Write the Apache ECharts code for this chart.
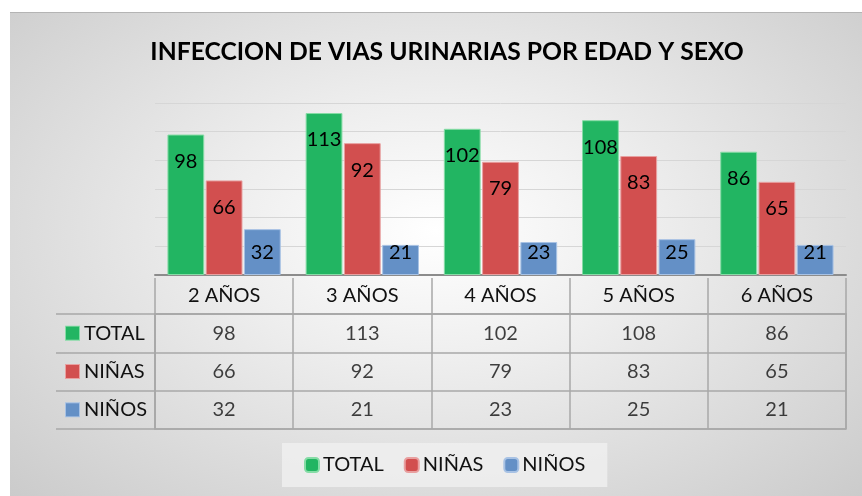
<!DOCTYPE html>
<html>
<head>
<meta charset="utf-8">
<script src="https://cdn.jsdelivr.net/npm/echarts@6/dist/echarts.min.js"></script>
<style>
  html, body { margin: 0; padding: 0; background: #fff; }
  #chart {
    position: absolute; left: 10px; top: 12px; width: 852px; height: 484px;
    border-top: 1px solid #b4b4b4;
    background: radial-gradient(ellipse at 50% 45%, #ffffff 0%, #eeeeee 35%, #cbcbcb 100%);
  }
</style>
</head>
<body>
<div id="chart"></div>
<script>
(function () {
// datos del grafico
var edades = ['2 AÑOS', '3 AÑOS', '4 AÑOS', '5 AÑOS', '6 AÑOS'];
var nombres = ['TOTAL', 'NIÑAS', 'NIÑOS'];
var total = [98, 113, 102, 108, 86];
var ninas = [66, 92, 79, 83, 65];
var ninos = [32, 21, 23, 25, 21];
var colores = ['#22b562', '#d24f4f', '#6490c6'];
var bordes = ['#86dca6', '#e8a0a0', '#a8c2e4'];

var valores = [total, ninas, ninos];
var fuente = 'Lato';
var lineaTabla = '#a8a8a8';

var myChart = echarts.init(document.getElementById('chart'));

// barras
var seriesBarras = nombres.map(function (n, k) {
  return {
    name: n,
    type: 'bar',
    xAxisIndex: 0,
    yAxisIndex: 0,
    barGap: '4%',
    barCategoryGap: '18%',
    itemStyle: { color: colores[k], borderColor: bordes[k], borderWidth: 1 },
    data: valores[k].map(function (v) {
      // barras cortas: etiqueta anclada abajo
      var corta = v < 34;
      return {
        value: v,
        label: corta ? { position: 'insideBottom', distance: 12 } : { position: 'insideTop', distance: 17 }
      };
    }),
    label: { show: true, color: '#000', fontFamily: fuente, fontSize: 20 }
  };
});

// celdas de la tabla de datos
var celdas = [];
nombres.forEach(function (n, k) {
  edades.forEach(function (e, i) {
    celdas.push([e, n, valores[k][i]]);
  });
});

var rich = {};
nombres.forEach(function (n, k) {
  rich['c' + k] = { width: 13, height: 13, backgroundColor: colores[k], borderColor: bordes[k], borderWidth: 1 };
  rich['t' + k] = { fontFamily: fuente, fontSize: 20, color: '#111', padding: [0, 0, 0, 5] };
});

var option = {
  animation: false,
  title: {
    text: 'INFECCION DE VIAS URINARIAS POR EDAD Y SEXO',
    left: 432, top: 22, textAlign: 'center',
    textStyle: { fontFamily: fuente, fontWeight: 'bold', fontSize: 24.7, color: '#000' }
  },
  legend: {
    data: nombres,
    left: 272, top: 430,
    padding: [12, 22, 12, 22],
    itemGap: 20,
    itemWidth: 14, itemHeight: 14,
    backgroundColor: 'rgba(240,240,240,0.8)',
    textStyle: { fontFamily: fuente, fontSize: 20, color: '#111', padding: [0, 0, 0, -1] }
  },
  grid: [
    { left: 145, right: 16, top: 90, bottom: 222 },
    { left: 145, right: 16, top: 301, bottom: 68, show: true, borderColor: lineaTabla, borderWidth: 1.5, backgroundColor: 'transparent' }
  ],
  xAxis: [
    {
      gridIndex: 0, type: 'category', data: edades,
      axisLine: { lineStyle: { color: '#8c8c8c', width: 2 } },
      axisTick: { show: false }, axisLabel: { show: false }
    },
    {
      gridIndex: 1, type: 'category', data: edades, position: 'top',
      axisLine: { lineStyle: { color: lineaTabla, width: 1.5 } },
      axisTick: { show: true, length: 36, lineStyle: { color: lineaTabla, width: 1.5 } },
      axisLabel: { margin: 8, fontFamily: fuente, fontSize: 20, color: '#111' },
      splitLine: { show: true, lineStyle: { color: lineaTabla, width: 1.5 } }
    }
  ],
  yAxis: [
    {
      gridIndex: 0, type: 'value', min: 0, max: 120, interval: 20,
      axisLine: { show: false }, axisTick: { show: false }, axisLabel: { show: false },
      splitLine: { lineStyle: { color: '#d6d6d6', width: 1 } }
    },
    {
      gridIndex: 1, type: 'category', data: nombres, inverse: true,
      axisLine: { show: true, lineStyle: { color: lineaTabla, width: 1.5 } },
      axisTick: { show: true, length: 99, lineStyle: { color: lineaTabla, width: 1.5 } },
      axisLabel: {
        margin: 89, align: 'left',
        formatter: function (v, idx) { return '{c' + idx + '|}{t' + idx + '|' + v + '}'; },
        rich: rich
      },
      splitLine: { show: true, lineStyle: { color: lineaTabla, width: 1.5 } }
    },
    {
      gridIndex: 1, type: 'category', data: nombres, inverse: true, offset: 99,
      axisLine: { show: true, lineStyle: { color: lineaTabla, width: 1.5 } },
      axisTick: { show: false }, axisLabel: { show: false }
    }
  ],
  series: seriesBarras.concat([{
    type: 'scatter',
    xAxisIndex: 1,
    yAxisIndex: 1,
    symbolSize: 0,
    silent: true,
    data: celdas,
    label: {
      show: true, position: 'inside',
      fontFamily: fuente, fontSize: 20, color: '#111',
      formatter: function (p) { return p.value[2]; }
    }
  }])
};

myChart.setOption(option);

window.addEventListener('resize', function () {
  myChart.resize();
});
})();
</script>
</body>
</html>
